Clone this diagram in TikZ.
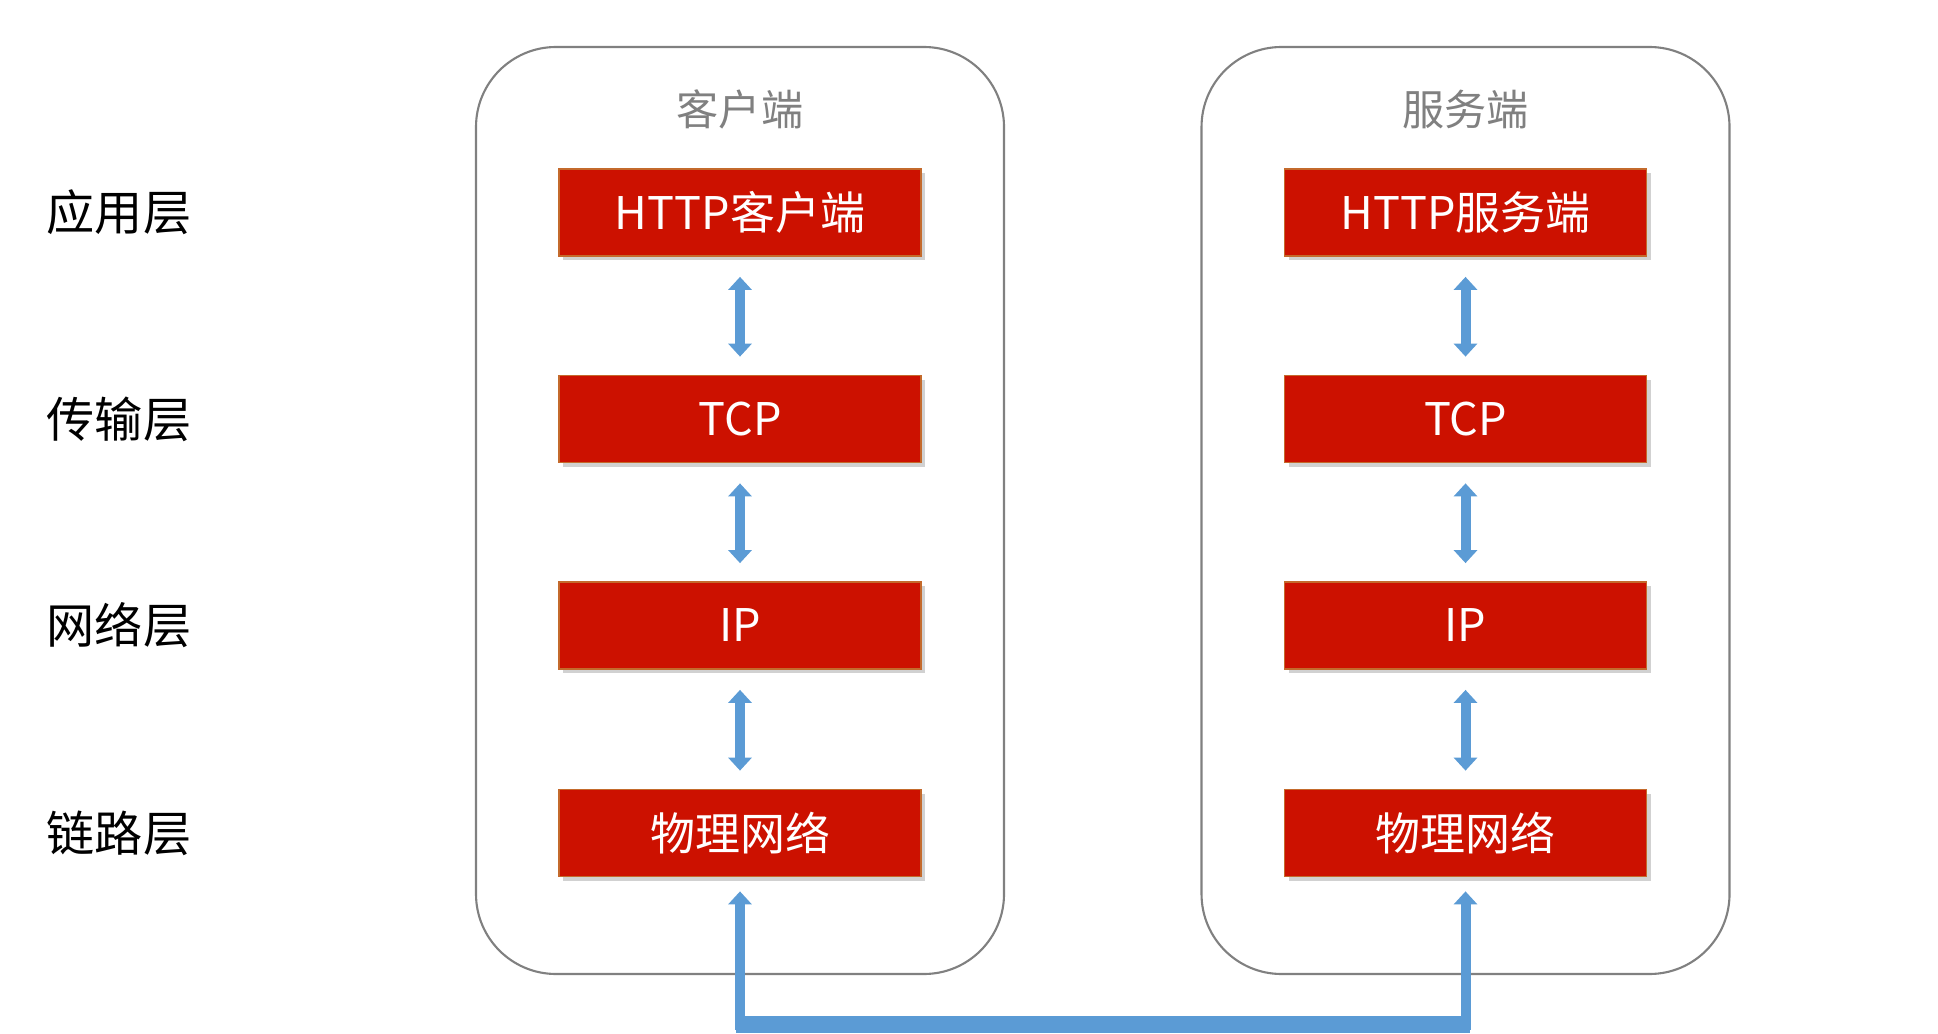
\documentclass[tikz,border=0pt]{standalone}
\usepackage{fontspec}
\setmainfont{Noto Sans CJK SC}
\usetikzlibrary{arrows.meta,positioning,shadows}
\definecolor{rosso}{HTML}{CC1100}
\definecolor{bordo}{HTML}{C46A2C}
\definecolor{blu}{HTML}{5B9BD5}
\definecolor{grigio}{HTML}{808080}

\begin{document}
\begin{tikzpicture}[
    contenitore/.style={draw=grigio, line width=0.6pt, rounded corners=0.8cm,
        minimum width=5.28cm, minimum height=9.27cm},
    titolo/.style={text=grigio, font=\fontsize{12pt}{14pt}\selectfont},
    strato/.style={font=\fontsize{13.7pt}{16pt}\selectfont},
    livello/.style={fill=rosso, draw=bordo, line width=0.5pt,
        minimum width=3.62cm, minimum height=0.87cm, text=white,
        font=\fontsize{12.8pt}{15pt}\selectfont,
        drop shadow={shadow xshift=0.04cm, shadow yshift=-0.04cm, fill=black!45, opacity=0.4}},
    freccia/.style={draw=blu, line width=0.1cm,
        {Triangle[width=0.23cm,length=0.13cm]}-{Triangle[width=0.23cm,length=0.13cm]}}
    ]
    \useasboundingbox (0,0) rectangle (19.38,-10.34);

    % Contenitori
    \node[contenitore] (cli) at (7.40,-5.105) {};
    \node[contenitore] (srv) at (14.655,-5.105) {};
    \node[titolo] (tcli) at (7.40,-1.09) {客户端};
    \node[titolo] (tsrv) at (14.655,-1.09) {服务端};

    % Nomi degli strati
    \foreach \nome/\y/\testo in {app/-2.125/应用层, tra/-4.19/传输层, ret/-6.255/网络层, col/-8.33/链路层} {
        \node[strato] (\nome) at (1.19,\y) {\testo};
    }

    % Livelli (client e server)
    \foreach \nome/\y/\tc/\ts in {http/-2.125/HTTP客户端/HTTP服务端, tcp/-4.19/TCP/TCP, ip/-6.255/IP/IP, fis/-8.33/物理网络/物理网络} {
        \node[livello] (\nome C) at (7.40,\y) {\tc};
        \node[livello] (\nome S) at (14.655,\y) {\ts};
    }

    % Frecce tra i livelli
    \foreach \a/\b in {http/tcp, tcp/ip, ip/fis} {
        \draw[freccia] ([yshift=-0.2cm]\a C.south) -- ([yshift=0.18cm]\b C.north);
        \draw[freccia] ([yshift=-0.2cm]\a S.south) -- ([yshift=0.18cm]\b S.north);
    }

    % Collegamento fisico
    \coordinate (bus) at (11,-10.245);
    \draw[freccia] ([yshift=-0.14cm]fisC.south) -- (fisC.south |- bus)
        -- (fisS.south |- bus) -- ([yshift=-0.14cm]fisS.south);
    \draw[blu, line width=0.17cm] ([xshift=-0.04cm]fisC.south |- bus) -- ([xshift=0.04cm]fisS.south |- bus);

\end{tikzpicture}
\end{document}
